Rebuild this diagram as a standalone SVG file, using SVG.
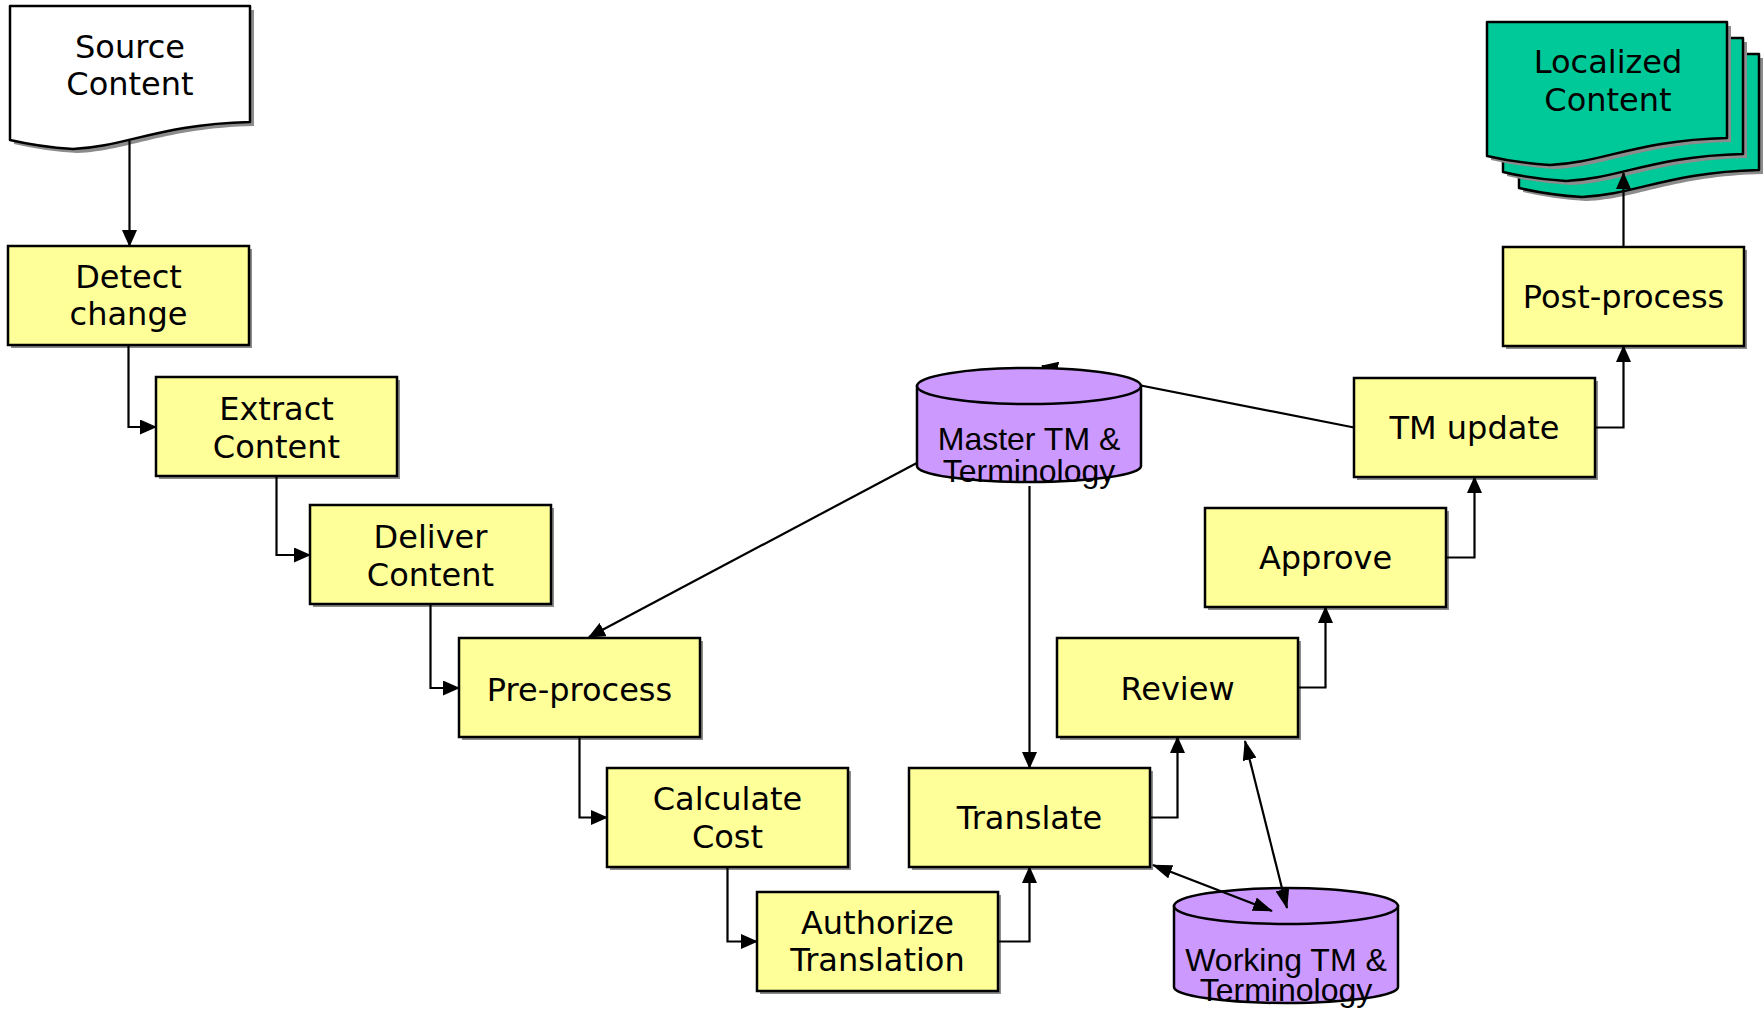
<svg xmlns="http://www.w3.org/2000/svg" width="1764" height="1009" viewBox="0 0 1764 1009">
  <style>
    .box { fill: #FFFF99; stroke: #000; stroke-width: 2.5; }
    .shadow { fill: #8C8C8C; stroke: none; }
    .doc { fill: #FFFFFF; stroke: #000; stroke-width: 2.5; stroke-linejoin: round; }
    .loc { fill: #00C999; stroke: #000; stroke-width: 2.5; stroke-linejoin: round; }
    .db { fill: #CC99FF; stroke: #000; stroke-width: 2.5; }
    .lbl { font-family: "DejaVu Sans", Verdana, sans-serif; font-size: 32px; fill: #000; text-anchor: middle; }
    .dblbl { font-family: "Liberation Sans", Arial, sans-serif; font-size: 32px; fill: #000; text-anchor: middle; }
    .conn { fill: none; stroke: #000; stroke-width: 2.2; }
  </style>
  <defs>
    <marker id="arrow" markerUnits="userSpaceOnUse" markerWidth="17" markerHeight="15" viewBox="0 0 17 15" refX="16" refY="7.5" orient="auto-start-reverse">
      <path d="M0,0 L17,7.5 L0,15 Z" fill="#000"/>
    </marker>
    <marker id="arrowLong" markerUnits="userSpaceOnUse" markerWidth="20" markerHeight="14" viewBox="0 0 20 14" refX="19" refY="7" orient="auto-start-reverse">
      <path d="M0,0 L20,7 L0,14 Z" fill="#000"/>
    </marker>
    <!-- page with a wavy lower edge, 240 wide -->
    <path id="page" d="M0,0 H240 V116 C150,118 115,141 63,143 Q30,141 0,134 Z"/>
  </defs>

  <rect width="1764" height="1009" fill="#FFFFFF"/>

  <!-- documents -->
  <g id="source-content">
    <use href="#page" class="shadow" transform="translate(14,10)"/>
    <use href="#page" class="doc" transform="translate(10,6)"/>
    <text class="lbl" x="130" y="58">Source</text>
    <text class="lbl" x="130" y="95">Content</text>
  </g>

  <g id="localized-content">
    <use href="#page" class="shadow" transform="translate(1523,58)"/>
    <use href="#page" class="loc" transform="translate(1519,54)"/>
    <use href="#page" class="shadow" transform="translate(1507,42)"/>
    <use href="#page" class="loc" transform="translate(1503,38)"/>
    <use href="#page" class="shadow" transform="translate(1491,26)"/>
    <use href="#page" class="loc" transform="translate(1487,22)"/>
    <text class="lbl" x="1608" y="73">Localized</text>
    <text class="lbl" x="1608" y="111">Content</text>
  </g>

  <!-- process steps -->
  <g id="detect-change">
    <rect class="shadow" x="11" y="249" width="241" height="99"/>
    <rect class="box" x="8" y="246" width="241" height="99"/>
    <text class="lbl" x="128.5" y="288">Detect</text>
    <text class="lbl" x="128.5" y="325">change</text>
  </g>
  <g id="extract-content">
    <rect class="shadow" x="159" y="380" width="241" height="99"/>
    <rect class="box" x="156" y="377" width="241" height="99"/>
    <text class="lbl" x="276.5" y="420">Extract</text>
    <text class="lbl" x="276.5" y="458">Content</text>
  </g>
  <g id="deliver-content">
    <rect class="shadow" x="313" y="508" width="241" height="99"/>
    <rect class="box" x="310" y="505" width="241" height="99"/>
    <text class="lbl" x="430.5" y="548">Deliver</text>
    <text class="lbl" x="430.5" y="586">Content</text>
  </g>
  <g id="pre-process">
    <rect class="shadow" x="462" y="641" width="241" height="99"/>
    <rect class="box" x="459" y="638" width="241" height="99"/>
    <text class="lbl" x="579.5" y="701">Pre-process</text>
  </g>
  <g id="calculate-cost">
    <rect class="shadow" x="610" y="771" width="241" height="99"/>
    <rect class="box" x="607" y="768" width="241" height="99"/>
    <text class="lbl" x="727.5" y="810">Calculate</text>
    <text class="lbl" x="727.5" y="848">Cost</text>
  </g>
  <g id="authorize-translation">
    <rect class="shadow" x="760" y="895" width="241" height="99"/>
    <rect class="box" x="757" y="892" width="241" height="99"/>
    <text class="lbl" x="877.5" y="934">Authorize</text>
    <text class="lbl" x="877.5" y="971">Translation</text>
  </g>
  <g id="translate">
    <rect class="shadow" x="912" y="771" width="241" height="99"/>
    <rect class="box" x="909" y="768" width="241" height="99"/>
    <text class="lbl" x="1029.5" y="829">Translate</text>
  </g>
  <g id="review">
    <rect class="shadow" x="1060" y="641" width="241" height="99"/>
    <rect class="box" x="1057" y="638" width="241" height="99"/>
    <text class="lbl" x="1177.5" y="700">Review</text>
  </g>
  <g id="approve">
    <rect class="shadow" x="1208" y="511" width="241" height="99"/>
    <rect class="box" x="1205" y="508" width="241" height="99"/>
    <text class="lbl" x="1325.5" y="569">Approve</text>
  </g>
  <g id="tm-update">
    <rect class="shadow" x="1357" y="381" width="241" height="99"/>
    <rect class="box" x="1354" y="378" width="241" height="99"/>
    <text class="lbl" x="1474.5" y="439">TM update</text>
  </g>
  <g id="post-process">
    <rect class="shadow" x="1506" y="250" width="241" height="99"/>
    <rect class="box" x="1503" y="247" width="241" height="99"/>
    <text class="lbl" x="1623.5" y="308">Post-process</text>
  </g>

  <!-- working store sits under its arrowheads -->
  <g id="working-tm">
    <path class="db" d="M1174,906 V987 A112,16 0 0 0 1398,987 V906 Z"/>
    <ellipse class="db" cx="1286" cy="906" rx="112" ry="18"/>
    <text class="dblbl" x="1286" y="971">Working TM &amp;</text>
    <text class="dblbl" x="1286" y="1001">Terminology</text>
  </g>

  <!-- connectors -->
  <g id="connectors">
    <path class="conn" d="M129.5,141 V246" marker-end="url(#arrow)"/>
    <path class="conn" d="M128.5,345 V427 H156" marker-end="url(#arrow)"/>
    <path class="conn" d="M276.5,476 V555 H310" marker-end="url(#arrow)"/>
    <path class="conn" d="M430.5,604 V688 H459" marker-end="url(#arrow)"/>
    <path class="conn" d="M579.5,737 V817.5 H607" marker-end="url(#arrow)"/>
    <path class="conn" d="M727.5,867 V941.5 H757" marker-end="url(#arrow)"/>
    <path class="conn" d="M998,941.5 H1029.5 V867" marker-end="url(#arrow)"/>
    <path class="conn" d="M1150,817.5 H1177.5 V737" marker-end="url(#arrow)"/>
    <path class="conn" d="M1298,687.5 H1325.5 V607" marker-end="url(#arrow)"/>
    <path class="conn" d="M1446,557.5 H1474.5 V477" marker-end="url(#arrow)"/>
    <path class="conn" d="M1595,427.5 H1623.5 V346" marker-end="url(#arrow)"/>
    <path class="conn" d="M1623.5,247 V173" marker-end="url(#arrow)"/>
    <path class="conn" d="M930,456 L589,637" marker-end="url(#arrow)"/>
    <path class="conn" d="M1029.5,486 V768" marker-end="url(#arrow)"/>
    <path class="conn" d="M1354,427.5 L1042,366" marker-end="url(#arrow)"/>
    <path class="conn" d="M1153,865 L1272,911" marker-start="url(#arrowLong)" marker-end="url(#arrowLong)"/>
    <path class="conn" d="M1245,741 L1287,908" marker-start="url(#arrowLong)" marker-end="url(#arrowLong)"/>
  </g>

  <!-- master store covers the ends of the lines that meet it -->
  <g id="master-tm">
    <path class="db" d="M917,386 V466 A112,16 0 0 0 1141,466 V386 Z"/>
    <ellipse class="db" cx="1029" cy="386" rx="112" ry="18"/>
    <text class="dblbl" x="1029" y="450">Master TM &amp;</text>
    <text class="dblbl" x="1029" y="482">Terminology</text>
  </g>
</svg>
